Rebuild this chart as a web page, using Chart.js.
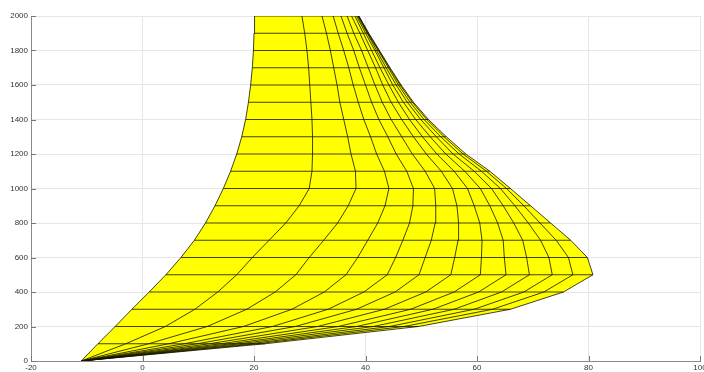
<!DOCTYPE html>
<html>
<head>
<meta charset="utf-8">
<script src="https://cdn.jsdelivr.net/npm/chart.js@4.4.1/dist/chart.umd.min.js"></script>
<style>
  html, body { margin: 0; padding: 0; background: #fff; }
  #c { display: block; }
</style>
</head>
<body>
<canvas id="c" width="704" height="372"></canvas>
<script>
// mesh rows (y values) and x of every mesh column at each row
const rowY = [0, 100, 200, 300, 400, 500, 600, 700, 800, 900, 1000,
  1100, 1200, 1300, 1400, 1500, 1600, 1700, 1800, 1900, 2000];

const col0 = [-11, -8, -4.9, -1.9, 1.2, 4.2, 6.9, 9.3, 11.3, 13.0, 14.5, 15.8, 16.9, 17.8, 18.5, 19.0, 19.4, 19.7, 19.9, 20.0, 20.1];
const col1 = [-11, -3.0, 4.1, 9.4, 13.5, 16.9, 19.7, 22.7, 25.7, 28.1, 29.9, 30.4, 30.5, 30.5, 30.4, 30.2, 30.0, 29.8, 29.5, 29.1, 28.6];
const col2 = [-11, 1.1, 11.6, 18.7, 23.8, 27.5, 29.9, 32.5, 35.0, 36.9, 38.3, 38.2, 37.4, 36.8, 36.1, 35.4, 34.9, 34.3, 33.7, 33.0, 32.2];
const col3 = [-11, 4.7, 18.1, 26.8, 32.6, 36.5, 38.6, 40.4, 42.2, 43.5, 44.2, 43.4, 42.0, 40.9, 39.7, 38.7, 37.8, 37.0, 36.1, 35.1, 34.2];
const col4 = [-11, 7.5, 23.3, 33.3, 39.7, 43.9, 45.4, 46.7, 47.9, 48.5, 48.6, 47.4, 45.5, 44.0, 42.4, 41.1, 40.0, 38.9, 37.9, 36.7, 35.6];
const col5 = [-11, 9.8, 27.4, 38.4, 45.3, 49.6, 50.7, 51.8, 52.5, 52.6, 52.4, 50.7, 48.4, 46.5, 44.6, 43.0, 41.7, 40.5, 39.3, 37.9, 36.7];
const col6 = [-11, 12.0, 31.4, 43.4, 50.8, 55.3, 56.0, 56.6, 56.7, 56.4, 55.6, 53.6, 50.9, 48.6, 46.5, 44.6, 43.1, 41.8, 40.4, 39.0, 37.5];
const col7 = [-11, 14.1, 35.1, 48.1, 55.9, 60.6, 60.8, 60.9, 60.5, 59.5, 58.3, 55.9, 52.8, 50.2, 47.9, 45.9, 44.2, 42.6, 41.1, 39.6, 38.1];
const col8 = [-11, 15.9, 38.4, 52.1, 60.3, 65.2, 64.9, 64.7, 63.7, 62.3, 60.6, 57.8, 54.4, 51.6, 49.0, 46.8, 44.9, 43.3, 41.7, 40.0, 38.4];
const col9 = [-11, 17.5, 41.4, 55.9, 64.4, 69.4, 68.9, 68.2, 66.6, 64.7, 62.6, 59.5, 55.7, 52.7, 49.9, 47.5, 45.5, 43.7, 42.0, 40.3, 38.6];
const col10 = [-11, 19.2, 44.3, 59.5, 68.4, 73.5, 72.9, 71.4, 69.2, 66.8, 64.2, 60.8, 56.8, 53.5, 50.5, 48.0, 45.9, 44.1, 42.3, 40.4, 38.7];
const col11 = [-11, 20.6, 46.9, 62.8, 72.0, 77.2, 76.4, 74.2, 71.3, 68.4, 65.3, 61.7, 57.5, 54.1, 51.0, 48.4, 46.2, 44.3, 42.4, 40.5, 38.8];
const col12 = [-11, 22.0, 49.5, 66.0, 75.5, 80.8, 79.8, 76.8, 73.2, 69.6, 66.0, 62.3, 58.0, 54.5, 51.3, 48.6, 46.4, 44.4, 42.5, 40.6, 38.8];

const columns = [col0, col1, col2, col3, col4, col5, col6, col7, col8, col9, col10, col11, col12];

const xTicks = [-20, 0, 20, 40, 60, 80, 100];
const yTicks = [0, 200, 400, 600, 800, 1000, 1200, 1400, 1600, 1800, 2000];

const edgeColor = 'rgba(20,20,0,0.8)';
const leftEdge = columns[0];
const rightEdge = columns[columns.length - 1];

const datasets = [];

// yellow surface outline: up the left edge, back down the right edge
const outline = rowY.map((y, i) => ({ x: leftEdge[i], y }))
  .concat(rowY.map((y, i) => ({ x: rightEdge[i], y })).reverse());
datasets.push({
  data: outline,
  showLine: true,
  fill: 'shape',
  backgroundColor: '#ffff00',
  borderColor: 'rgba(0,0,0,0)',
  borderWidth: 0,
  pointRadius: 0,
  order: 10,
});

// mesh columns
columns.forEach(col => {
  datasets.push({
    data: rowY.map((y, i) => ({ x: col[i], y })),
    showLine: true,
    borderColor: edgeColor,
    borderWidth: 1,
    pointRadius: 0,
    fill: false,
    order: 1,
  });
});

// mesh rows (horizontal)
rowY.forEach((y, i) => {
  if (i === 0) return;
  datasets.push({
    data: [{ x: leftEdge[i], y }, { x: rightEdge[i], y }],
    showLine: true,
    borderColor: edgeColor,
    borderWidth: 1,
    pointRadius: 0,
    fill: false,
    order: 1,
  });
});

// matlab style inward ticks
const innerTicks = {
  id: 'innerTicks',
  afterDraw(chart) {
    const { ctx, chartArea, scales } = chart;
    ctx.save();
    ctx.strokeStyle = '#777';
    ctx.lineWidth = 1;
    ctx.beginPath();
    xTicks.forEach(v => {
      const px = Math.round(scales.x.getPixelForValue(v)) + 0.5;
      ctx.moveTo(px, chartArea.bottom);
      ctx.lineTo(px, chartArea.bottom - 5);
    });
    yTicks.forEach(v => {
      const py = Math.round(scales.y.getPixelForValue(v)) + 0.5;
      ctx.moveTo(chartArea.left, py);
      ctx.lineTo(chartArea.left + 5, py);
    });
    ctx.stroke();
    ctx.restore();
  }
};

const tickFont = { family: 'Liberation Sans, Arial, sans-serif', size: 8 };

new Chart(document.getElementById('c'), {
  type: 'scatter',
  data: { datasets },
  options: {
    responsive: false,
    animation: false,
    devicePixelRatio: 1,
    layout: { padding: { top: 16, right: 4, left: 0, bottom: 0 } },
    plugins: { legend: { display: false }, tooltip: { enabled: false } },
    scales: {
      x: {
        type: 'linear',
        min: -20,
        max: 100,
        afterBuildTicks: s => { s.ticks = xTicks.map(v => ({ value: v })); },
        afterFit: s => { s.height = 11; s.paddingLeft = 0; s.paddingRight = 0; },
        ticks: { font: tickFont, color: '#333', padding: 2, maxRotation: 0, callback: v => String(v) },
        grid: { color: '#e6e6e6', drawTicks: false },
        border: { color: '#8a8a8a' },
      },
      y: {
        type: 'linear',
        min: 0,
        max: 2000,
        afterBuildTicks: s => { s.ticks = yTicks.map(v => ({ value: v })); },
        afterFit: s => { s.width = 31; s.paddingTop = 0; s.paddingBottom = 0; },
        ticks: { font: tickFont, color: '#333', padding: 3, callback: v => String(v) },
        grid: { color: '#e6e6e6', drawTicks: false },
        border: { color: '#8a8a8a' },
      },
    },
  },
  plugins: [innerTicks],
});
</script>
</body>
</html>
